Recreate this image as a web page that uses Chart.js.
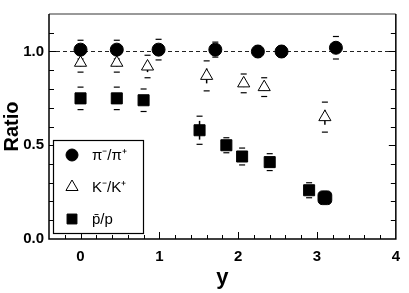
<!DOCTYPE html>
<html>
<head>
<meta charset="utf-8">
<script src="https://cdn.jsdelivr.net/npm/chart.js@4/dist/chart.umd.min.js"></script>
<style>
  body { margin: 0; background: #fff; }
  #wrap { width: 409px; height: 293px; }
</style>
</head>
<body>
<div id="wrap"><canvas id="ratioChart"></canvas></div>
<script>
// Rapidity values and ratios
const piX = [0, 0.46, 0.99, 1.71, 2.25, 2.55, 3.24];
const piY = [1.01, 1.01, 1.01, 1.01, 1.00, 1.00, 1.02];
const piStat = [0.01, 0.01, 0.01, 0.02, 0.01, 0.01, 0.03];
const piSys = [0.05, 0.05, 0.055, 0.04, 0.03, 0.03, 0.06];

const kX = [0, 0.46, 0.85, 1.6, 2.07, 2.33, 3.1];
const kY = [0.94, 0.94, 0.92, 0.87, 0.83, 0.81, 0.65];
const kStat = [0.02, 0.02, 0.03, 0.04, 0.02, 0.02, 0.04];
const kSys = [0.05, 0.05, 0.06, 0.08, 0.05, 0.05, 0.08];

const pX = [0, 0.46, 0.8, 1.51, 1.85, 2.05, 2.4, 2.9, 3.1];
const pY = [0.75, 0.75, 0.74, 0.58, 0.50, 0.44, 0.41, 0.26, 0.22];
const pStat = [0.02, 0.02, 0.02, 0.05, 0.02, 0.02, 0.02, 0.02, 0.02];
const pSys = [0.06, 0.06, 0.06, 0.075, 0.04, 0.045, 0.045, 0.04, 0.0];

const seriesLabels = ['π⁻/π⁺', 'K⁻/K⁺', 'p̄/p'];
const xLabelTicks = [0, 1, 2, 3, 4];
const yLabelTicks = [0, 0.5, 1.0];

function toPoints(xs, ys) {
    return xs.map((x, i) => ({ x: x, y: ys[i] }));
}

Chart.defaults.font.family = '"Liberation Sans", Arial, sans-serif';
Chart.defaults.color = '#000';

// Frame, inward ticks and the dashed line at 1
const framePlugin = {
    id: 'frame',
    beforeDatasetsDraw(chart) {
        const { ctx, chartArea: a, scales } = chart;
        ctx.save();
        ctx.strokeStyle = '#222';
        ctx.lineWidth = 1;
        ctx.setLineDash([4, 3]);
        const y1 = scales.y.getPixelForValue(1.0);
        ctx.beginPath();
        ctx.moveTo(a.left, y1);
        ctx.lineTo(a.right, y1);
        ctx.stroke();
        ctx.restore();
    },
    afterDatasetsDraw(chart) {
        const { ctx, chartArea: a, scales } = chart;
        ctx.save();
        ctx.strokeStyle = '#999';
        ctx.lineWidth = 2;
        ctx.beginPath();
        ctx.moveTo(a.left, a.top);
        ctx.lineTo(a.right, a.top);
        ctx.stroke();
        ctx.strokeStyle = '#000';
        ctx.lineWidth = 1.5;
        ctx.beginPath();
        ctx.moveTo(a.left, a.top);
        ctx.lineTo(a.left, a.bottom);
        ctx.lineTo(a.right, a.bottom);
        ctx.lineTo(a.right, a.top);
        ctx.stroke();
        ctx.lineWidth = 1;
        for (let i = 1; i <= 11; i++) {
            const v = i / 10;
            const py = Math.round(scales.y.getPixelForValue(v)) + 0.5;
            const len = (i % 5 === 0) ? 7 : 5;
            ctx.beginPath();
            ctx.moveTo(a.left, py);
            ctx.lineTo(a.left + len, py);
            ctx.moveTo(a.right, py);
            ctx.lineTo(a.right - len, py);
            ctx.stroke();
        }
        for (let i = -1; i <= 19; i++) {
            const v = i / 5;
            const px = Math.round(scales.x.getPixelForValue(v)) + 0.5;
            const len = (i % 5 === 0) ? 7 : 4;
            ctx.beginPath();
            ctx.moveTo(px, a.bottom);
            ctx.lineTo(px, a.bottom - len);
            ctx.stroke();
        }
        ctx.restore();
    }
};

// Statistical bars and systematic caps
const errorPlugin = {
    id: 'errors',
    beforeDatasetsDraw(chart) {
        const { ctx, scales } = chart;
        ctx.save();
        ctx.strokeStyle = '#000';
        chart.data.datasets.forEach((ds, di) => {
            const meta = chart.getDatasetMeta(di);
            meta.data.forEach((pt, i) => {
                const v = ds.data[i].y;
                const st = ds.stat[i], sy = ds.sys[i];
                ctx.lineWidth = 1.5;
                ctx.beginPath();
                ctx.moveTo(pt.x, scales.y.getPixelForValue(v + st));
                ctx.lineTo(pt.x, scales.y.getPixelForValue(v - st));
                ctx.stroke();
                if (sy > 0) {
                    ctx.lineWidth = 1.2;
                    [v + sy, v - sy].forEach(e => {
                        const py = scales.y.getPixelForValue(e);
                        ctx.beginPath();
                        ctx.moveTo(pt.x - 3, py);
                        ctx.lineTo(pt.x + 3, py);
                        ctx.stroke();
                    });
                }
            });
        });
        ctx.restore();
    }
};

// Legend box in the lower left of the plot
const legendPlugin = {
    id: 'boxLegend',
    afterDraw(chart) {
        const { ctx } = chart;
        const bx = 53, by = 140, bw = 90, bh = 93;
        ctx.save();
        ctx.fillStyle = '#fff';
        ctx.fillRect(bx, by, bw, bh);
        ctx.strokeStyle = '#000';
        ctx.lineWidth = 1.2;
        ctx.strokeRect(bx + 0.5, by + 0.5, bw, bh);
        const rows = [155, 187, 219];
        chart.data.datasets.forEach((ds, i) => {
            ctx.fillStyle = ds.backgroundColor;
            ctx.strokeStyle = '#000';
            ctx.lineWidth = 1;
            Chart.helpers.drawPoint(ctx, {
                pointStyle: ds.legendStyle,
                radius: ds.legendRadius,
                borderWidth: 1
            }, 72, rows[i]);
            ctx.fillStyle = '#000';
            ctx.font = '15px "Liberation Sans", Arial, sans-serif';
            ctx.textBaseline = 'middle';
            ctx.fillText(ds.label, 92, rows[i] + 1);
        });
        ctx.restore();
    }
};

const config = {
    type: 'scatter',
    data: {
        datasets: [
            {
                label: seriesLabels[0],
                data: toPoints(piX, piY),
                stat: piStat, sys: piSys,
                pointStyle: 'circle',
                pointRadius: 6.5,
                backgroundColor: '#000',
                borderColor: '#000',
                borderWidth: 1,
                legendStyle: 'circle',
                legendRadius: 6
            },
            {
                label: seriesLabels[1],
                data: toPoints(kX, kY),
                stat: kStat, sys: kSys,
                pointStyle: 'triangle',
                pointRadius: 7,
                backgroundColor: '#fff',
                borderColor: '#000',
                borderWidth: 1,
                legendStyle: 'triangle',
                legendRadius: 7
            },
            {
                label: seriesLabels[2],
                data: toPoints(pX, pY),
                stat: pStat, sys: pSys,
                pointStyle: ['rect', 'rect', 'rect', 'rect', 'rect', 'rect', 'rect', 'rect', 'rectRounded'],
                pointRadius: [7.8, 7.8, 7.8, 7.8, 7.8, 7.8, 7.8, 7.8, 8],
                backgroundColor: '#000',
                borderColor: '#000',
                borderWidth: 1,
                legendStyle: 'rect',
                legendRadius: 7
            }
        ]
    },
    options: {
        responsive: true,
        maintainAspectRatio: false,
        animation: false,
        layout: { padding: { top: 7, right: 12, left: 0, bottom: 0 } },
        plugins: {
            legend: { display: false },
            tooltip: { enabled: false }
        },
        scales: {
            x: {
                type: 'linear',
                min: -0.4,
                max: 4,
                grid: { display: false, drawTicks: false },
                border: { display: false },
                afterBuildTicks: s => {
                    s.ticks = xLabelTicks.map(v => ({ value: v }));
                },
                ticks: {
                    padding: 9,
                    font: { size: 15, weight: 'bold' },
                    callback: v => String(v)
                },
                title: {
                    display: true,
                    text: 'y',
                    font: { size: 22, weight: 'bold' },
                    padding: { top: 0, bottom: 2 }
                },
                afterFit: s => { s.height = 54; }
            },
            y: {
                type: 'linear',
                min: 0,
                max: 1.2,
                grid: { display: false, drawTicks: false },
                border: { display: false },
                afterBuildTicks: s => {
                    s.ticks = yLabelTicks.map(v => ({ value: v }));
                },
                ticks: {
                    padding: 5,
                    font: { size: 15, weight: 'bold' },
                    callback: v => v.toFixed(1)
                },
                title: {
                    display: true,
                    text: 'Ratio',
                    font: { size: 20, weight: 'bold' },
                    padding: 0
                },
                afterFit: s => { s.width = 49; }
            }
        }
    },
    plugins: [framePlugin, errorPlugin, legendPlugin]
};

new Chart(document.getElementById('ratioChart'), config);
</script>
</body>
</html>
